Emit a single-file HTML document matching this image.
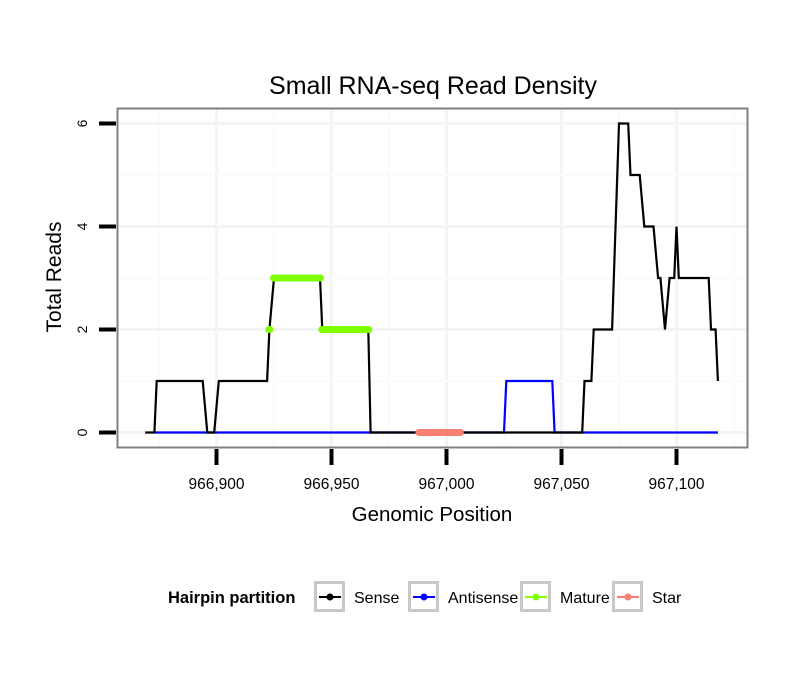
<!DOCTYPE html>
<html><head><meta charset="utf-8"><style>
body{margin:0;background:#fff;}
svg{display:block;font-family:"Liberation Sans",sans-serif;}
</style></head><body>
<svg id="chart" width="810" height="690" viewBox="0 0 810 690" xmlns="http://www.w3.org/2000/svg">
<rect x="0" y="0" width="810" height="690" fill="#fff"/>
<text x="433" y="94" font-size="25" text-anchor="middle" fill="#000">Small RNA-seq Read Density</text>
<g id="grid"></g>
<g id="series"></g>
<rect x="117.5" y="108.5" width="630" height="339" fill="none" stroke="#808080" stroke-width="2"/>
<g id="axes"></g>
<text x="432" y="521" font-size="20.5" text-anchor="middle">Genomic Position</text>
<text transform="translate(61,277) rotate(-90)" font-size="21" text-anchor="middle">Total Reads</text>
<g font-size="16">
<text x="168" y="603" font-weight="bold" font-size="16.5">Hairpin partition</text>
<g id="legend-items"></g>
</g>
</svg>
<script>
const senseX=[966869,966873,966874,966894,966896,966899,966901,966922,966923,966925,966945,966946,966966,966967,967059,967060,967063,967064,967072,967075,967079,967080,967084,967086,967090,967092,967093,967095,967097,967099,967100,967101,967114,967115,967117,967118];
const senseY=[0,0,1,1,0,0,1,1,2,3,3,2,2,0,0,1,1,2,2,6,6,5,5,4,4,3,3,2,3,3,4,3,3,2,2,1];
const antiX=[966873,967025,967026,967046,967047,967118];
const antiY=[0,0,1,1,0,0];
const matureSegs=[[966923,966923,2],[966925,966945,3],[966946,966966,2]];
const starSegs=[[966988,967006,0]];
const xTicks=[966900,966950,967000,967050,967100];
const xTickLabels=["966,900","966,950","967,000","967,050","967,100"];
const yTicks=[0,2,4,6];
const legendLabels=["Sense","Antisense","Mature","Star"];
const legendColors=["#000","#0000ff","#7fff00","#fa8072"];

const NS="http://www.w3.org/2000/svg";
const sx=v=>216.5+(v-966900)*2.3;
const sy=v=>432.5-v*51.5;
function mk(tag,attrs,parent){const e=document.createElementNS(NS,tag);for(const k in attrs)e.setAttribute(k,attrs[k]);parent.appendChild(e);return e;}
const grid=document.getElementById('grid'),series=document.getElementById('series'),axes=document.getElementById('axes');
for(let v=966875;v<=967125;v+=25){const x=sx(v);if(x<118||x>747)continue;
 const l=mk('line',{x1:x,x2:x,y1:109,y2:447,stroke:v%50===0?'#f4f4f4':'#fbfbfb','stroke-width':v%50===0?3:2},grid);
 
 }
for(let v=0;v<=6.5;v+=1){const y=sy(v);
 const l=mk('line',{x1:118,x2:747,y1:y,y2:y,stroke:v%2===0?'#f4f4f4':'#fbfbfb','stroke-width':v%2===0?3:2},grid);
 
 }
function poly(xs,ys,color,name){const p=mk('polyline',{points:xs.map((x,i)=>sx(x)+','+sy(ys[i])).join(' '),fill:'none',stroke:color,'stroke-width':2.2,'stroke-linejoin':'miter'},series);
 
 }
poly(antiX,antiY,'#0000ff','antisense-line');
poly(senseX,senseY,'#000','sense-line');
matureSegs.forEach(s=>{const l=mk('line',{x1:sx(s[0])-0.5,x2:sx(s[1])+0.5,y1:sy(s[2]),y2:sy(s[2]),stroke:'#7fff00','stroke-width':7,'stroke-linecap':'round'},series);
 
 });
starSegs.forEach(s=>{const l=mk('line',{x1:sx(s[0]),x2:sx(s[1]),y1:sy(s[2]),y2:sy(s[2]),stroke:'#fa8072','stroke-width':7,'stroke-linecap':'round'},series);
 
 });
xTicks.forEach((v,i)=>{const x=sx(v);
 const t=mk('line',{x1:x,x2:x,y1:449,y2:465,stroke:'#000','stroke-width':4},axes);
 
 
 const tx=mk('text',{x:x,y:489,'font-size':15.5,'text-anchor':'middle'},axes);tx.textContent=xTickLabels[i];
 
 });
yTicks.forEach(v=>{const y=sy(v);
 const t=mk('line',{x1:99,x2:116,y1:y,y2:y,stroke:'#000','stroke-width':4},axes);
 
 
 const tx=mk('text',{transform:`translate(87,${y}) rotate(-90)`,'font-size':14,'text-anchor':'middle'},axes);tx.textContent=v;
 
 });
const li=document.getElementById('legend-items');
const boxX=[314,408,520,612];
legendLabels.forEach((lab,i)=>{const bx=boxX[i];
 const g=mk('g',{},li);
 
 
 mk('rect',{x:bx+1.5,y:582.5,width:28,height:28,fill:'#fff',stroke:'#c8c8c8','stroke-width':3},g);
 mk('line',{x1:bx+5,x2:bx+27,y1:597,y2:597,stroke:legendColors[i],'stroke-width':2},g);
 mk('circle',{cx:bx+16,cy:597,r:3.5,fill:legendColors[i]},g);
 const t=mk('text',{x:bx+40,y:603},g);t.textContent=lab;});
</script>
</body></html>
